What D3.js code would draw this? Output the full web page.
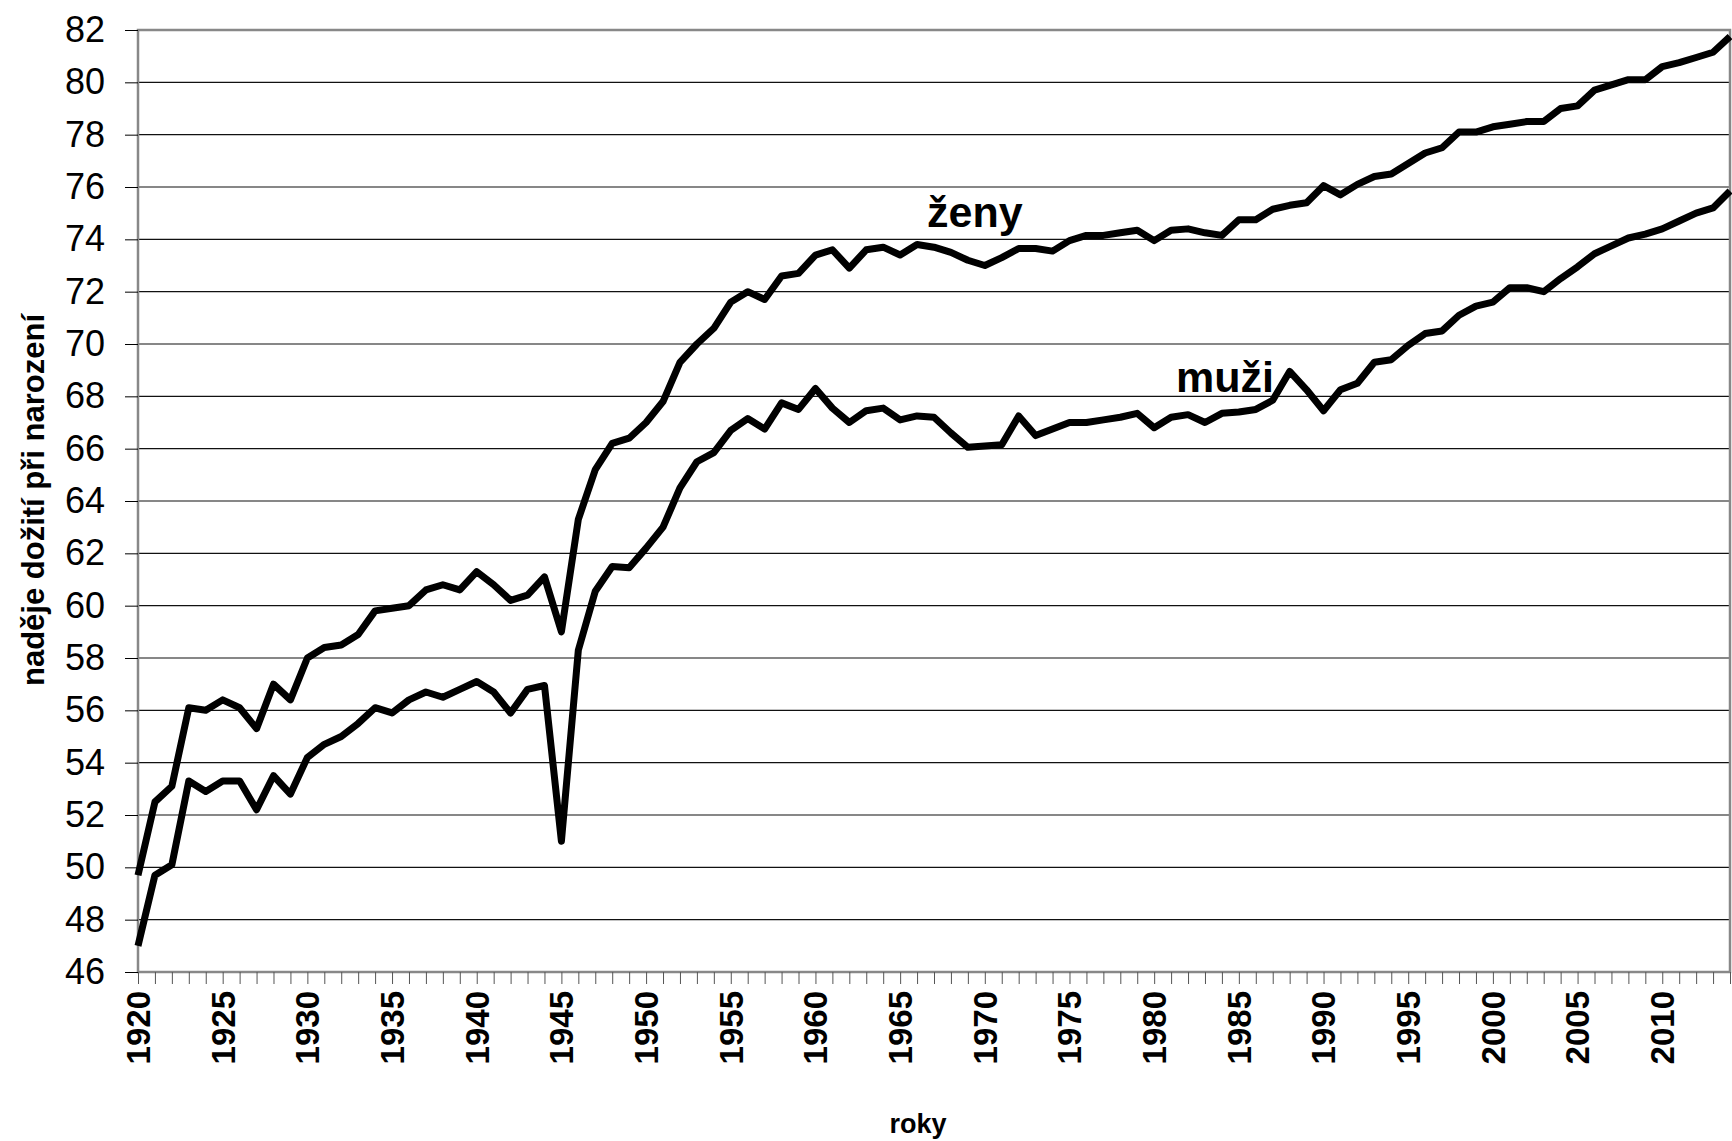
<html>
  <head>
    <meta charset="utf-8">
    <title>nadeje doziti</title>
    <style>
      body { margin: 0; background: #fff; }
      text { font-family: Arial, "Liberation Sans", sans-serif; }
    </style>
  </head>
  <body>
    <script src="https://cdn.jsdelivr.net/npm/d3@7/dist/d3.min.js"></script>
    <script>
    var width = 1732;
    var height = 1141;

    // roky 1920-2014
    var years = d3.range(1920, 2015);
    var yTicks = d3.range(46, 83, 2);
    var xLabels = d3.range(1920, 2015, 5);

    var zeny = [49.7, 52.5, 53.1, 56.1, 56.0, 56.4, 56.1, 55.3, 57.0, 56.4,
                58.0, 58.4, 58.5, 58.9, 59.8, 59.9, 60.0, 60.6, 60.8, 60.6,
                61.3, 60.8, 60.2, 60.4, 61.1, 59.0, 63.3, 65.2, 66.2, 66.4,
                67.0, 67.8, 69.3, 70.0, 70.6, 71.6, 72.0, 71.7, 72.6, 72.7,
                73.4, 73.6, 72.9, 73.6, 73.7, 73.4, 73.8, 73.7, 73.5, 73.2,
                73.0, 73.3, 73.65, 73.65, 73.55, 73.95, 74.15, 74.15, 74.25, 74.35,
                73.95, 74.35, 74.4, 74.25, 74.15, 74.75, 74.75, 75.15, 75.3, 75.4,
                76.05, 75.7, 76.1, 76.4, 76.5, 76.9, 77.3, 77.5, 78.1, 78.1,
                78.3, 78.4, 78.5, 78.5, 79.0, 79.1, 79.7, 79.9, 80.1, 80.1,
                80.6, 80.75, 80.95, 81.15, 81.75];

    var muzi = [47.0, 49.7, 50.1, 53.3, 52.9, 53.3, 53.3, 52.2, 53.5, 52.8,
                54.2, 54.7, 55.0, 55.5, 56.1, 55.9, 56.4, 56.7, 56.5, 56.8,
                57.1, 56.7, 55.9, 56.8, 56.95, 51.0, 58.3, 60.55, 61.5, 61.45,
                62.2, 63.0, 64.5, 65.5, 65.85, 66.7, 67.15, 66.75, 67.75, 67.5,
                68.3, 67.55, 67.0, 67.45, 67.55, 67.1, 67.25, 67.2, 66.6, 66.05,
                66.1, 66.15, 67.25, 66.5, 66.75, 67.0, 67.0, 67.1, 67.2, 67.35,
                66.8, 67.2, 67.3, 67.0, 67.35, 67.4, 67.5, 67.85, 68.95, 68.25,
                67.45, 68.25, 68.5, 69.3, 69.4, 69.95, 70.4, 70.5, 71.1, 71.45,
                71.6, 72.15, 72.15, 72.0, 72.5, 72.95, 73.45, 73.75, 74.05, 74.2,
                74.4, 74.7, 75.0, 75.2, 75.85];

    var svg = d3.select('body')
      .append('svg')
      .attr('width', width).attr('height', height);

    svg.append('rect').attr('width', width).attr('height', height).attr('fill', '#fff');

    var plot = {left: 138, right: 1730, top: 30, bottom: 972};

    var xScale = d3.scaleLinear().domain([1920, 2014]).range([plot.left, plot.right]);
    var yScale = d3.scaleLinear().domain([46, 82]).range([plot.bottom, plot.top]);

    // mrizka
    svg.append('g')
      .selectAll('line')
      .data(yTicks.slice(1, -1))
      .enter()
      .append('line')
      .attr('x1', plot.left).attr('x2', plot.right)
      .attr('y1', d => yScale(d)).attr('y2', d => yScale(d))
      .attr('stroke', '#111')
      .attr('stroke-width', 1.2);

    // ramecek
    svg.append('rect')
      .attr('x', plot.left).attr('y', plot.top)
      .attr('width', plot.right - plot.left).attr('height', plot.bottom - plot.top)
      .attr('fill', 'none')
      .attr('stroke', '#888')
      .attr('stroke-width', 2.5);

    // osa y
    var yAxis = d3.axisLeft(yScale)
      .tickValues(yTicks)
      .tickSize(13)
      .tickPadding(20)
      .tickFormat(d3.format('d'));

    var gy = svg.append('g')
      .attr('transform', 'translate(' + plot.left + ',0)')
      .call(yAxis);
    gy.select('.domain').remove();
    gy.selectAll('line').attr('stroke', '#000');
    gy.selectAll('text')
      .attr('font-size', 36)
      .attr('font-family', 'Arial, "Liberation Sans", sans-serif')
      .attr('fill', '#000');

    // osa x
    var xAxis = d3.axisBottom(xScale)
      .tickValues(years)
      .tickSize(12)
      .tickFormat('');

    var gx = svg.append('g')
      .attr('transform', 'translate(0,' + plot.bottom + ')')
      .call(xAxis);
    gx.select('.domain').remove();
    gx.selectAll('line').attr('stroke', '#555');

    svg.append('g')
      .selectAll('text')
      .data(xLabels)
      .enter()
      .append('text')
      .attr('transform', d => 'translate(' + xScale(d) + ',991) rotate(-90)')
      .attr('dy', '0.36em')
      .attr('text-anchor', 'end')
      .attr('font-size', 33)
      .attr('font-weight', 'bold')
      .text(d => d);

    // krivky
    var line = d3.line()
      .x((d, i) => xScale(years[i]))
      .y(d => yScale(d));

    [zeny, muzi].forEach(function(s) {
      svg.append('path')
        .datum(s)
        .attr('d', line)
        .attr('fill', 'none')
        .attr('stroke', '#000')
        .attr('stroke-width', 7)
        .attr('stroke-linejoin', 'round');
    });

    // popisky
    svg.append('text')
      .attr('x', 927).attr('y', 227)
      .attr('font-size', 43).attr('font-weight', 'bold')
      .text('ženy');

    svg.append('text')
      .attr('x', 1176).attr('y', 392)
      .attr('font-size', 43).attr('font-weight', 'bold')
      .text('muži');

    svg.append('text')
      .attr('transform', 'translate(33,500) rotate(-90)')
      .attr('dy', '0.36em')
      .attr('text-anchor', 'middle')
      .attr('font-size', 31).attr('font-weight', 'bold')
      .text('naděje dožití při narození');

    svg.append('text')
      .attr('x', 918).attr('y', 1133)
      .attr('text-anchor', 'middle')
      .attr('font-size', 27).attr('font-weight', 'bold')
      .text('roky');
    </script>
  </body>
</html>
